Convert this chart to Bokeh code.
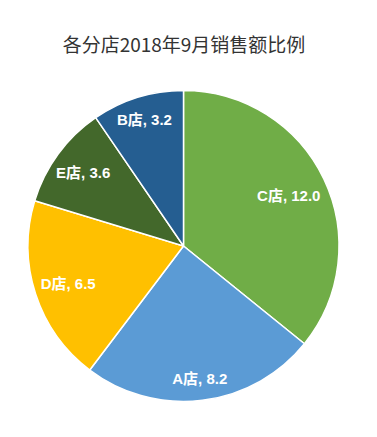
import math
from bokeh.plotting import figure
from bokeh.models import Range1d, ColumnDataSource
from bokeh.core.properties import value
from bokeh.embed import file_html
from bokeh.resources import INLINE

title = "各分店2018年9月销售额比例"
stores = ["C店", "A店", "D店", "E店", "B店"]
sales = [12.0, 8.2, 6.5, 3.6, 3.2]
colors = ["#70AD47", "#5B9BD5", "#FFC000", "#43682B", "#255E91"]
label_r = [0.75, 0.86, 0.78, 0.80, 0.85]

W, H = 377, 437
cx, cy, R = 183, 437 - 245.5, 155.5

total = sum(sales)
starts, ends, lx, ly, labels = [], [], [], [], []
cum = 0.0
for s, v, f in zip(stores, sales, label_r):
    a0 = math.pi / 2 - cum / total * 2 * math.pi
    cum += v
    a1 = math.pi / 2 - cum / total * 2 * math.pi
    starts.append(a0)
    ends.append(a1)
    mid = (a0 + a1) / 2
    lx.append(cx + f * R * math.cos(mid))
    ly.append(cy + f * R * math.sin(mid))
    labels.append(f"{s}, {v:.1f}")

src = ColumnDataSource(dict(start=starts, end=ends, color=colors, lx=lx, ly=ly, label=labels))

p = figure(width=W, height=H, output_backend="svg", toolbar_location=None,
           x_range=Range1d(0, W), y_range=Range1d(0, H), min_border=0)
p.axis.visible = False
p.grid.visible = False
p.outline_line_color = None
p.background_fill_color = "white"

p.wedge(x=cx, y=cy, radius=R, radius_units="data", start_angle="start", end_angle="end",
        direction="clock", fill_color="color", line_color="white", line_width=1.5, source=src)

p.text(x="lx", y="ly", text="label", source=src, text_color="white",
       text_font=value("Liberation Sans, Noto Sans CJK SC"), text_font_style="bold",
       text_font_size="15px", text_align="center", text_baseline="middle")

p.text(x=[183.5], y=[437 - 43], text=[title], text_color="#333333",
       text_font=value("Noto Sans CJK SC"), text_font_size="19px",
       text_align="center", text_baseline="middle")

open("out.html", "w").write(file_html(p, INLINE))
